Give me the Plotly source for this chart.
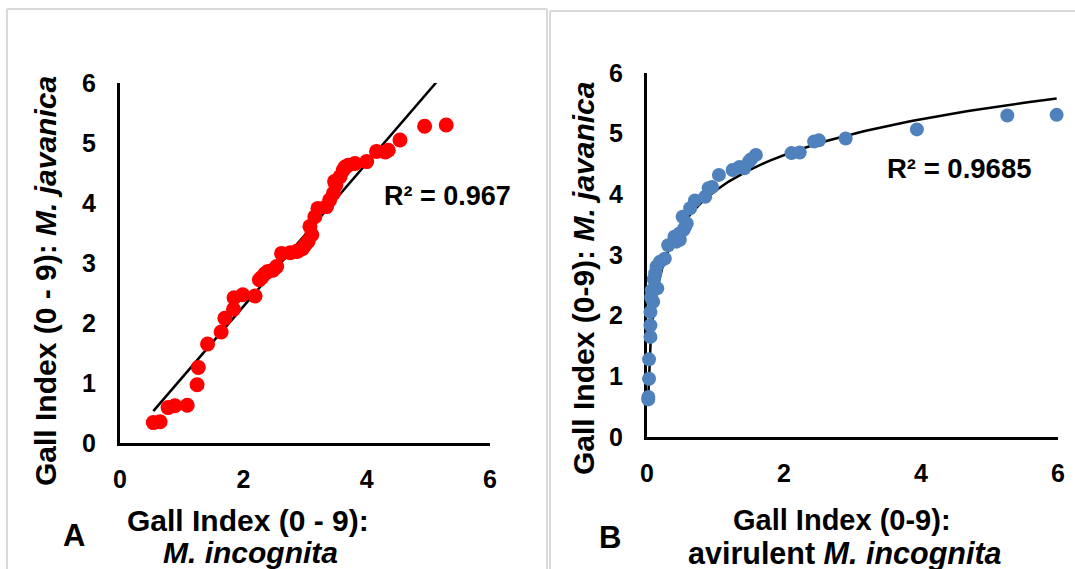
import numpy as np
import plotly.graph_objects as go

# ---- Panel A data (M. incognita vs M. javanica) ----
a_x = [0.54, 0.65, 0.78, 0.89, 1.09, 1.25, 1.27, 1.42, 1.64, 1.70, 1.84, 1.85, 1.99, 2.19,
       2.26, 2.30, 2.35, 2.40, 2.48, 2.54, 2.62, 2.76, 2.86, 2.90, 2.96, 3.00, 3.05, 3.11,
       3.08, 3.16, 3.21, 3.35, 3.40, 3.46, 3.48, 3.50, 3.57, 3.62, 3.65, 3.70, 3.81, 4.00,
       4.16, 4.30, 4.35, 4.54, 4.94, 5.29]
a_y = [0.34, 0.355, 0.59, 0.62, 0.63, 0.97, 1.26, 1.65, 1.85, 2.08, 2.23, 2.42, 2.47, 2.45,
       2.72, 2.76, 2.82, 2.86, 2.88, 2.94, 3.16, 3.17, 3.19, 3.21, 3.24, 3.30, 3.36, 3.47,
       3.61, 3.77, 3.91, 3.94, 4.05, 4.16, 4.36, 4.30, 4.44, 4.55, 4.60, 4.63, 4.66, 4.69,
       4.86, 4.85, 4.88, 5.05, 5.28, 5.30]
a_trend = [1.194, -0.113]          # slope, intercept of linear trendline
a_r2 = "R² = 0.967"

# ---- Panel B data (avirulent M. incognita vs M. javanica) ----
b_x = [0.018, 0.020, 0.030, 0.030, 0.050, 0.050, 0.050, 0.060, 0.090, 0.070, 0.150, 0.100,
       0.120, 0.140, 0.190, 0.260, 0.310, 0.400, 0.430, 0.470, 0.480, 0.530, 0.550, 0.580,
       0.520, 0.630, 0.700, 0.850, 0.900, 0.950, 1.050, 1.250, 1.350, 1.420, 1.490, 1.520,
       1.590, 2.110, 2.230, 2.440, 2.510, 2.900, 3.940, 5.260, 5.980]
b_y = [0.62, 0.66, 0.96, 1.28, 1.65, 1.84, 2.06, 2.30, 2.23, 2.42, 2.45, 2.60,
       2.70, 2.81, 2.89, 2.94, 3.16, 3.30, 3.22, 3.35, 3.25, 3.41, 3.45, 3.52,
       3.63, 3.77, 3.90, 3.96, 4.10, 4.12, 4.32, 4.40, 4.45, 4.43, 4.54, 4.58,
       4.65, 4.68, 4.69, 4.87, 4.89, 4.92, 5.07, 5.30, 5.31]
b_trend = [0.85, 4.06]             # a*ln(x) + b logarithmic trendline
b_r2 = "R² = 0.9685"

x_ticks = [0, 2, 4, 6]
y_ticks = [0, 1, 2, 3, 4, 5, 6]

W, H = 1075, 569
FONT = "Liberation Sans, Arial, sans-serif"

def px(x):
    return x / W

def py(y):
    return 1 - y / H

fig = go.Figure()

# Panel A
ax_line = np.array([min(a_x), max(a_x)])
fig.add_trace(go.Scatter(x=ax_line, y=a_trend[0] * ax_line + a_trend[1], mode="lines",
                         line=dict(color="black", width=2.5), xaxis="x", yaxis="y",
                         hoverinfo="skip"))
fig.add_trace(go.Scatter(x=a_x, y=a_y, mode="markers", cliponaxis=False,
                         marker=dict(color="#FF0000", size=15), xaxis="x", yaxis="y"))

# Panel B
bx_line = np.geomspace(min(b_x), max(b_x), 300)
fig.add_trace(go.Scatter(x=bx_line, y=b_trend[0] * np.log(bx_line) + b_trend[1], mode="lines",
                         line=dict(color="black", width=2.5), xaxis="x2", yaxis="y2",
                         hoverinfo="skip"))
fig.add_trace(go.Scatter(x=b_x, y=b_y, mode="markers", cliponaxis=False,
                         marker=dict(color="#4F81BD", size=14), xaxis="x2", yaxis="y2"))

tickfont = dict(family=FONT, size=25, color="black", weight="bold")
common_x = dict(range=[0, 6], tickvals=x_ticks, showline=True, linecolor="black", linewidth=3,
                showgrid=False, zeroline=False, ticks="", tickfont=tickfont,
                ticklabelstandoff=12, fixedrange=True, layer="below traces", automargin=False)
common_y = dict(range=[0, 6], tickvals=y_ticks, showline=True, linecolor="black", linewidth=3,
                showgrid=False, zeroline=False, ticks="", tickfont=tickfont,
                ticklabelstandoff=16, fixedrange=True, layer="below traces", automargin=False)

fig.update_layout(
    width=W, height=H, margin=dict(l=0, r=0, t=0, b=0, pad=0, autoexpand=False),
    paper_bgcolor="white", plot_bgcolor="white", showlegend=False,
    xaxis=dict(domain=[px(120), px(490)], anchor="y", **common_x),
    yaxis=dict(domain=[py(443), py(83)], anchor="x", **common_y),
    xaxis2=dict(domain=[px(647), px(1058)], anchor="y2", **common_x),
    yaxis2=dict(domain=[py(437), py(73)], anchor="x2", **common_y),
)

# Panel borders
border = dict(color="#d9d9d9", width=2)
for x0, x1, ytop in [(7, 547, 9), (550, 1080, 11)]:
    fig.add_shape(type="line", xref="paper", yref="paper", x0=px(x0), x1=px(x1),
                  y0=py(ytop), y1=py(ytop), line=border)
    fig.add_shape(type="line", xref="paper", yref="paper", x0=px(x0), x1=px(x0),
                  y0=py(ytop), y1=-0.05, line=border)
    fig.add_shape(type="line", xref="paper", yref="paper", x0=px(x1), x1=px(x1),
                  y0=py(ytop), y1=-0.05, line=border)

def ann(text, x, y, size, angle=0, xanchor="center"):
    fig.add_annotation(text=text, x=px(x), y=py(y), xref="paper", yref="paper",
                       showarrow=False, textangle=angle, xanchor=xanchor, yanchor="middle",
                       font=dict(family=FONT, size=size, color="black"))

# Panel A texts
ann("<b>Gall Index (0 - 9): <i>M. javanica</i></b>", 45, 281, 30, angle=-90)
ann("<b>Gall Index (0 - 9):</b>", 248, 520, 30)
ann("<b><i>M. incognita</i></b>", 250, 552, 30)
ann("<b>A</b>", 74, 535, 31)
ann(f"<b>{a_r2}</b>", 382, 196, 27, xanchor="left")

# Panel B texts
ann("<b>Gall Index (0-9):</b>", 842, 520, 29)
ann("<b>Gall Index (0-9): <i>M. javanica</i></b>", 583, 279, 30, angle=-90)
ann("<b>avirulent <i>M. incognita</i></b>", 845, 553, 30.5)
ann("<b>B</b>", 610, 537, 31)
ann(f"<b>{b_r2}</b>", 885, 168, 27.5, xanchor="left")

fig.write_html("out.html")
